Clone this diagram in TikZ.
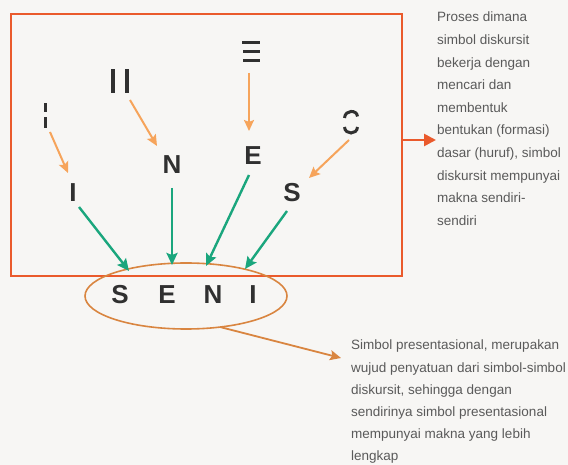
\documentclass[tikz,border=0pt]{standalone}
\usepackage{fontspec}
\setmainfont{Liberation Sans}
\usetikzlibrary{arrows.meta,shapes.geometric}
\definecolor{bg}{HTML}{F7F6F4}
\definecolor{boxred}{HTML}{EA5A2C}
\definecolor{ellor}{HTML}{D98540}
\definecolor{lightor}{HTML}{F6A45B}
\definecolor{grn}{HTML}{1AA67D}
\definecolor{ink}{HTML}{303030}
\definecolor{txt}{HTML}{5A5A5A}
\begin{document}
\begin{tikzpicture}[x=1pt,y=-1pt,
  letter/.style={font=\fontsize{26}{26}\selectfont\bfseries, text=ink, inner sep=0pt},
  frag/.style={fill=ink, draw=none},
  fragline/.style={draw=ink, line width=3pt},
  orarrow/.style={draw=lightor, line width=2pt, -{Stealth[length=11pt,width=10pt,inset=2pt]}},
  grarrow/.style={draw=grn, line width=2.4pt, -{Stealth[length=12pt,width=11pt,inset=2pt]}},
  note/.style={font=\fontsize{13.5}{22.2}\selectfont, text=txt, align=left, inner sep=0pt, anchor=north west},
  sidenote/.style={note, font=\fontsize{13.5}{22.6}\selectfont}]
\useasboundingbox[fill=bg] (0,0) rectangle (568,465);

% frame
\node[draw=boxred, line width=2.2pt, minimum width=391pt, minimum height=262pt, inner sep=0pt] (frame) at (206.5,145) {};

% fragments
\fill[frag] (43.5,103) rectangle (47,112);
\fill[frag] (43.5,117) rectangle (47,128);
\fill[frag] (111,69) rectangle (114.5,93);
\fill[frag] (125,69) rectangle (128.5,93);
\fill[frag] (242,41) rectangle (260,44.5);
\fill[frag] (243,50) rectangle (260,53.5);
\fill[frag] (243,59) rectangle (260,62.5);
\draw[fragline] (344.5,118) .. controls (345,109.5) and (357,109.5) .. (357.5,116.5);
\draw[fragline] (344.5,127) .. controls (345,135) and (357,135) .. (357.5,127);

% inner letters
\node[letter] (i1) at (73,193) {I};
\node[letter] (n1) at (172,165) {N};
\node[letter] (e1) at (253,156) {E};
\node[letter] (s1) at (292,193) {S};

% SENI
\node[draw=ellor, line width=1.6pt, ellipse, minimum width=202pt, minimum height=66pt, inner sep=0pt] (oval) at (186,296) {};
\node[letter] (S) at (120,295) {S};
\node[letter] (E) at (167,295) {E};
\node[letter] (N) at (213,295) {N};
\node[letter] (I) at (253,295) {I};

% coordinates
\coordinate (fi) at (50,132);   \coordinate (ti) at (68,173);
\coordinate (fn) at (130,100);  \coordinate (tn) at (157,146);
\coordinate (fe) at (249,73);   \coordinate (te) at (249,131);
\coordinate (fs) at (349,140);  \coordinate (ts) at (309,178);
\coordinate (gi1) at (79,207);  \coordinate (gi2) at (129,271);
\coordinate (gn1) at (172,188); \coordinate (gn2) at (172,265);
\coordinate (ge1) at (249,175); \coordinate (ge2) at (206,266);
\coordinate (gs1) at (287,211); \coordinate (gs2) at (245,269);
\coordinate (ra1) at (402,140); \coordinate (ra2) at (436,140);
\coordinate (ba1) at (220,327); \coordinate (ba2) at (341,358);

\draw[orarrow] (fi) -- (ti);
\draw[orarrow] (fn) -- (tn);
\draw[orarrow] (fe) -- (te);
\draw[orarrow] (fs) -- (ts);

\draw[grarrow] (gi1) -- (gi2);
\draw[grarrow] (gn1) -- (gn2);
\draw[grarrow] (ge1) -- (ge2);
\draw[grarrow] (gs1) -- (gs2);

\draw[draw=boxred, line width=2.6pt, -{Triangle[length=12pt,width=12pt]}] (ra1) -- (ra2);
\draw[draw=ellor, line width=1.8pt, -{Stealth[length=11pt,width=10pt,inset=2pt]}] (ba1) -- (ba2);

% texts
\node[sidenote] (t1) at (437,12) {Proses dimana\\simbol diskursit\\bekerja dengan\\mencari dan\\membentuk\\bentukan (formasi)\\dasar (huruf), simbol\\diskursit mempunyai\\makna sendiri-\\sendiri};
\node[note] (t2) at (351,340) {Simbol presentasional, merupakan\\wujud penyatuan dari simbol-simbol\\diskursit, sehingga dengan\\sendirinya simbol presentasional\\mempunyai makna yang lebih\\lengkap};
\end{tikzpicture}
\end{document}
